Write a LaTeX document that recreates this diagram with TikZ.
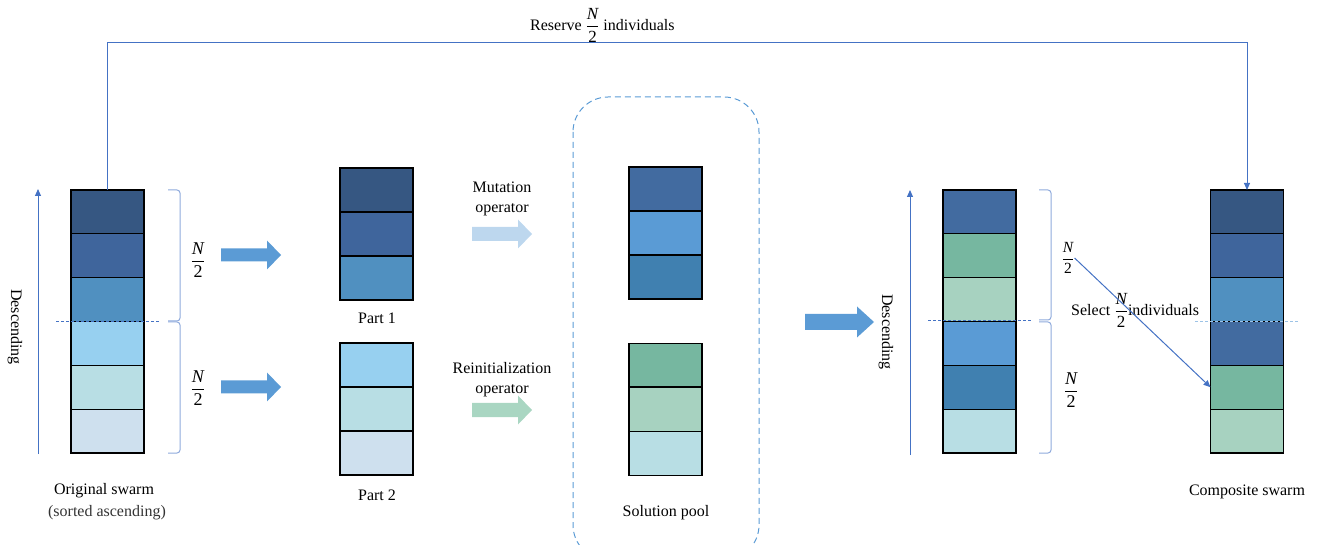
\documentclass[tikz,border=0pt]{standalone}
\usepackage{amsmath}
\usepackage{fontspec}
\setmainfont{Liberation Serif}
\usetikzlibrary{arrows.meta}
\definecolor{cNavy}{HTML}{365782}
\definecolor{cBlueB}{HTML}{3F659C}
\definecolor{cBlueC}{HTML}{5090C0}
\definecolor{cSky}{HTML}{97D0F0}
\definecolor{cCyan}{HTML}{B8DEE4}
\definecolor{cPale}{HTML}{CEE0EE}
\definecolor{cPoolA}{HTML}{426BA0}
\definecolor{cPoolB}{HTML}{5A9BD5}
\definecolor{cPoolC}{HTML}{4080B0}
\definecolor{cGreen}{HTML}{76B7A0}
\definecolor{cLGreen}{HTML}{A7D2C0}
\definecolor{bigArr}{HTML}{5B9BD5}
\definecolor{mutArr}{HTML}{BDD7EE}
\definecolor{reiArr}{HTML}{A9D6C2}
\definecolor{lineBlue}{HTML}{4472C4}
\definecolor{brkBlue}{HTML}{8FAADC}
\definecolor{sepLight}{HTML}{9DC3E6}
\definecolor{poolDash}{HTML}{5B9BD5}
\definecolor{subGray}{HTML}{333333}
\newcommand\blockarr[7]{% color, x0, xhead, x1, yc, shafthalf, headhalf
  \fill[#1] (#2,{#5-#6}) -- (#3,{#5-#6}) -- (#3,{#5-#7}) -- (#4,#5) -- (#3,{#5+#7}) -- (#3,{#5+#6}) -- (#2,{#5+#6}) -- cycle;}
\newcommand\halfN{\genfrac{}{}{1.1pt}{0}{\textit{N}}{\textrm{2}}}
\begin{document}
\begin{tikzpicture}[x=1pt,y=-1pt,
  font=\fontsize{16}{20}\selectfont,
  cell/.style={draw=black, line width=1.2pt, minimum width=73pt, minimum height=43.83pt, inner sep=0pt, outer sep=0pt},
  lbl/.style={inner sep=0pt, align=center},
  frac/.style={inner sep=0pt, font=\fontsize{18}{21}\selectfont},
  conn/.style={draw=lineBlue, line width=1pt},
  brk/.style={draw=brkBlue, line width=1pt, rounded corners=3pt},
  sepline/.style={draw=lineBlue, line width=0.8pt, dash pattern=on 3pt off 2pt},
  tip/.style={-{Triangle[length=7pt,width=6pt]}}
]
\useasboundingbox (0,0) rectangle (1318,545);

% solution pool frame
\draw[poolDash, line width=1pt, dash pattern=on 6pt off 4pt, rounded corners=35pt] (573,97) rectangle (759,560);

% original swarm
\foreach \c [count=\i] in {cNavy,cBlueB,cBlueC,cSky,cCyan,cPale}
  \node[cell, fill=\c] (o\i) at (107.5,{190+43.83*(\i-0.5)}) {};
% part 1 / part 2
\foreach \c [count=\i] in {cNavy,cBlueB,cBlueC}
  \node[cell, fill=\c] (pa\i) at (376.5,{168+44*(\i-0.5)}) {};
\foreach \c [count=\i] in {cSky,cCyan,cPale}
  \node[cell, fill=\c] (pb\i) at (376.5,{343+44*(\i-0.5)}) {};
% solution pool
\foreach \c [count=\i] in {cPoolA,cPoolB,cPoolC}
  \node[cell, fill=\c] (sa\i) at (665.5,{167+44*(\i-0.5)}) {};
\foreach \c [count=\i] in {cGreen,cLGreen,cCyan}
  \node[cell, fill=\c] (sb\i) at (665.5,{343+44.3*(\i-0.5)}) {};
% sorted merged swarm
\foreach \c [count=\i] in {cPoolA,cGreen,cLGreen,cPoolB,cPoolC,cCyan}
  \node[cell, fill=\c] (m\i) at (979.5,{190+43.83*(\i-0.5)}) {};
% composite swarm
\foreach \c [count=\i] in {cNavy,cBlueB,cBlueC,cPoolA,cGreen,cLGreen}
  \node[cell, fill=\c] (k\i) at (1247,{190+43.83*(\i-0.5)}) {};

% separators
\draw[sepline] (56,321) -- (160,321);
\draw[sepline] (928,320) -- (1032,320);
\draw[draw=sepLight, line width=1pt, dash pattern=on 3pt off 2pt] (1195,322) -- (1299,322);

% brackets
\draw[brk] (168,190) -- (180,190) -- (180,321) -- (168,321);
\draw[brk] (168,322) -- (180,322) -- (180,453) -- (168,453);
\draw[brk] (1039,190) -- (1051,190) -- (1051,320) -- (1039,320);
\draw[brk] (1039,322) -- (1051,322) -- (1051,453) -- (1039,453);

% descending arrows
\coordinate (dlb) at (38,454);
\coordinate (dlt) at (38,189);
\draw[conn, tip] (dlb) -- (dlt);
\coordinate (drb) at (910,455);
\coordinate (drt) at (910,190);
\draw[conn, tip] (drb) -- (drt);
\node[lbl, rotate=-90] (dtl) at (15,327) {Descending};
\node[lbl, rotate=-90] (dtr) at (886,332) {Descending};

% block arrows
\blockarr{bigArr}{221}{267}{281}{255}{6.5}{14.5}
\blockarr{bigArr}{221}{267}{281}{387}{6.5}{14.5}
\blockarr{mutArr}{472}{518}{532}{234}{7}{14.5}
\blockarr{reiArr}{472}{518}{532}{410}{7}{14.5}
\blockarr{bigArr}{805}{857}{874}{322}{8}{15.5}

% fractions
\node[frac] (f1) at (198,260) {$\displaystyle\halfN$};
\node[frac] (f2) at (198,388) {$\displaystyle\halfN$};
\node[frac, font=\fontsize{15.5}{18}\selectfont] (nh1) at (1068,258) {$\displaystyle\halfN$};
\node[frac] (nh2) at (1071,390) {$\displaystyle\halfN$};

% labels
\node[lbl] (lorig) at (104,491) {Original swarm};
\node[lbl, text=subGray] (lsort) at (107,513) {(sorted ascending)};
\node[lbl] (lp1) at (377,318) {Part 1};
\node[lbl] (lp2) at (377,495) {Part 2};
\node[lbl] (lmut) at (502,199) {Mutation\\operator};
\node[lbl] (lrei) at (502,380) {Reinitialization\\operator};
\node[lbl] (lpool) at (666,513) {Solution pool};
\node[lbl] (lcomp) at (1247,492) {Composite swarm};
\node[lbl, anchor=base west] (lsel) at (1071,316) {Select {\fontsize{17}{20}\selectfont$\displaystyle\halfN$}individuals};
\node[lbl, anchor=base west] (lres) at (530,31) {Reserve {\fontsize{17}{20}\selectfont$\displaystyle\halfN$} individuals};

% connectors
\coordinate (topL) at (107.5,43);
\draw[conn, tip] (o1.north) -- (topL) -| (k1.north);
\draw[conn, tip] (nh1.east) -- (k5.west);
\end{tikzpicture}
\end{document}
